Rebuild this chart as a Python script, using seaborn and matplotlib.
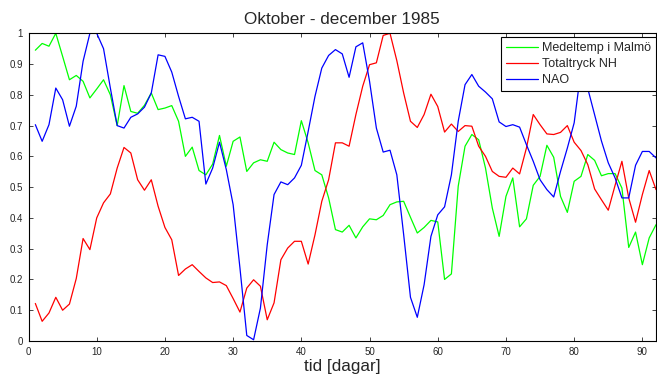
import numpy as np
import pandas as pd
import matplotlib
matplotlib.use("Agg")
import matplotlib.pyplot as plt
import seaborn as sns

days = list(range(1, 93))

medeltemp = [0.945, 0.967, 0.958, 1.0, 0.925, 0.849, 0.863, 0.844, 0.79, 0.819,
             0.849, 0.80, 0.70, 0.83, 0.746, 0.74, 0.766, 0.806, 0.752, 0.757,
             0.765, 0.714, 0.60, 0.63, 0.554, 0.54, 0.575, 0.668, 0.568, 0.649,
             0.663, 0.551, 0.579, 0.589, 0.584, 0.646, 0.622, 0.611, 0.606, 0.716,
             0.644, 0.554, 0.54, 0.465, 0.362, 0.354, 0.376, 0.335, 0.371, 0.397,
             0.394, 0.408, 0.443, 0.452, 0.454, 0.402, 0.351, 0.369, 0.392, 0.387,
             0.20, 0.218, 0.503, 0.633, 0.671, 0.654, 0.562, 0.432, 0.34, 0.47,
             0.53, 0.371, 0.397, 0.506, 0.535, 0.636, 0.597, 0.47, 0.418, 0.519,
             0.535, 0.606, 0.587, 0.537, 0.544, 0.544, 0.497, 0.304, 0.354, 0.248,
             0.335, 0.378]

totaltryck = [0.122, 0.064, 0.091, 0.142, 0.10, 0.12, 0.203, 0.333, 0.297, 0.40,
              0.449, 0.478, 0.562, 0.629, 0.611, 0.524, 0.49, 0.524, 0.438, 0.369,
              0.329, 0.213, 0.234, 0.248, 0.226, 0.205, 0.19, 0.192, 0.18, 0.138,
              0.094, 0.172, 0.199, 0.178, 0.069, 0.124, 0.264, 0.302, 0.324, 0.324,
              0.25, 0.345, 0.454, 0.524, 0.644, 0.644, 0.633, 0.736, 0.828, 0.898,
              0.904, 0.993, 1.0, 0.911, 0.806, 0.714, 0.694, 0.736, 0.802, 0.762,
              0.679, 0.705, 0.681, 0.70, 0.698, 0.633, 0.60, 0.551, 0.535, 0.532,
              0.562, 0.543, 0.627, 0.736, 0.703, 0.673, 0.671, 0.678, 0.70, 0.646,
              0.619, 0.573, 0.494, 0.459, 0.425, 0.506, 0.584, 0.465, 0.386, 0.476,
              0.554, 0.492]

nao = [0.703, 0.649, 0.703, 0.822, 0.784, 0.698, 0.763, 0.909, 1.0, 1.0,
       0.95, 0.822, 0.70, 0.692, 0.727, 0.738, 0.76, 0.806, 0.93, 0.925,
       0.874, 0.795, 0.722, 0.727, 0.714, 0.51, 0.562, 0.646, 0.557, 0.443,
       0.237, 0.018, 0.004, 0.107, 0.313, 0.476, 0.517, 0.508, 0.53, 0.571,
       0.681, 0.795, 0.887, 0.928, 0.947, 0.933, 0.857, 0.956, 0.969, 0.844,
       0.692, 0.614, 0.62, 0.54, 0.346, 0.142, 0.077, 0.183, 0.34, 0.41,
       0.436, 0.54, 0.714, 0.833, 0.866, 0.828, 0.809, 0.787, 0.712, 0.697,
       0.703, 0.695, 0.638, 0.584, 0.524, 0.492, 0.468, 0.551, 0.627, 0.709,
       0.88, 0.82, 0.735, 0.65, 0.579, 0.53, 0.465, 0.465, 0.571, 0.616,
       0.616, 0.595]

series_names = ["Medeltemp i Malmö", "Totaltryck NH", "NAO"]
series_colors = ["#00ff00", "#ff0000", "#0000ff"]
yticks = [0, 0.1, 0.2, 0.3, 0.4, 0.5, 0.6, 0.7, 0.8, 0.9, 1]
ytick_labels = ["0", "0.1", "0.2", "0.3", "0.4", "0.5", "0.6", "0.7", "0.8", "0.9", "1"]
xticks = [0, 10, 20, 30, 40, 50, 60, 70, 80, 90]

df = pd.concat([
    pd.DataFrame({"dag": days, "v": medeltemp, "serie": series_names[0]}),
    pd.DataFrame({"dag": days, "v": totaltryck, "serie": series_names[1]}),
    pd.DataFrame({"dag": days, "v": nao, "serie": series_names[2]}),
], ignore_index=True)

sns.set_style("ticks")
plt.rcParams["font.family"] = ["Liberation Sans", "DejaVu Sans"]

fig = plt.figure(figsize=(6.57, 3.77), dpi=100)
ax = fig.add_axes([0.0434, 0.0955, 0.9551, 0.8162])

sns.lineplot(data=df, x="dag", y="v", hue="serie", hue_order=series_names,
             palette=dict(zip(series_names, series_colors)), linewidth=0.9,
             ax=ax, legend=True)

ax.set_xlim(0, 92)
ax.set_ylim(0, 1)
ax.set_xticks(xticks)
ax.set_xticklabels([str(t) for t in xticks], fontsize=7)
ax.set_yticks(yticks)
ax.set_yticklabels(ytick_labels, fontsize=7)
ax.tick_params(direction="in", top=True, right=True, length=3, width=0.6, pad=4)
for s in ax.spines.values():
    s.set_visible(True)
    s.set_linewidth(0.8)
    s.set_color("black")

ax.set_title("Oktober - december 1985", fontsize=12.3, pad=6.5)
ax.set_xlabel("tid [dagar]", fontsize=12.3, labelpad=1.5)
ax.set_ylabel("")

leg = ax.legend(loc="upper right", bbox_to_anchor=(1.0, 0.988), fontsize=9,
                frameon=True, fancybox=False, edgecolor="black", framealpha=1,
                borderaxespad=0.0, handlelength=2.6, labelspacing=0.32,
                borderpad=0.4, handletextpad=0.3)
leg.get_frame().set_linewidth(0.8)

fig.savefig("out.png", dpi=100)
